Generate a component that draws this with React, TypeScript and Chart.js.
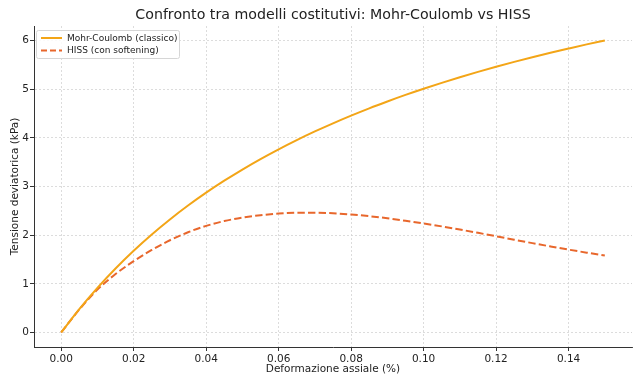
import React, { useEffect, useRef } from "react";
import { Chart, registerables } from "chart.js";

Chart.register(...registerables);

const TITLE = "Confronto tra modelli costitutivi: Mohr-Coulomb vs HISS";
const X_LABEL = "Deformazione assiale (%)";
const Y_LABEL = "Tensione deviatorica (kPa)";
const SERIES_NAMES = ["Mohr-Coulomb (classico)", "HISS (con softening)"];

const strain = [
  0, 0.005, 0.01, 0.015, 0.02, 0.025, 0.03, 0.035, 0.04, 0.045, 0.05, 0.055,
  0.06, 0.065, 0.07, 0.075, 0.08, 0.085, 0.09, 0.095, 0.1, 0.105, 0.11, 0.115,
  0.12, 0.125, 0.13, 0.135, 0.14, 0.145, 0.15,
];

const mohrCoulomb = [
  0, 0.481, 0.917, 1.315, 1.679, 2.014, 2.322, 2.608, 2.873, 3.119, 3.349,
  3.564, 3.765, 3.954, 4.132, 4.299, 4.457, 4.607, 4.748, 4.883, 5.01, 5.131,
  5.247, 5.357, 5.461, 5.562, 5.658, 5.749, 5.837, 5.922, 6.0,
];

const hiss = [
  0, 0.47, 0.88, 1.2, 1.465, 1.695, 1.895, 2.06, 2.19, 2.29, 2.36, 2.41, 2.443,
  2.46, 2.462, 2.45, 2.425, 2.39, 2.347, 2.296, 2.24, 2.18, 2.115, 2.047,
  1.977, 1.906, 1.836, 1.768, 1.702, 1.64, 1.58,
];

const xTicks = [0, 0.02, 0.04, 0.06, 0.08, 0.1, 0.12, 0.14];
const yTicks = [0, 1, 2, 3, 4, 5, 6];

const COLORS = ["#f3a517", "#e8672c"];
const FONT = "'DejaVu Sans', sans-serif";

export default function App() {
  const ref = useRef<HTMLCanvasElement | null>(null);

  useEffect(() => {
    if (!ref.current) return;

    const overlayPlugin = {
      id: "overlay",
      afterDraw(chart: any) {
        const ctx = chart.ctx;
        const area = chart.chartArea;
        ctx.save();
        ctx.font = `14.2px ${FONT}`;
        ctx.fillStyle = "#222";
        ctx.textAlign = "center";
        ctx.textBaseline = "middle";
        ctx.fillText(TITLE, (area.left + area.right) / 2, 15);

        const x0 = 36.5, y0 = 30.5, w = 143, h = 28;
        ctx.fillStyle = "rgba(255,255,255,0.85)";
        ctx.strokeStyle = "#d6d6d6";
        ctx.lineWidth = 1;
        ctx.beginPath();
        (ctx as any).roundRect(x0, y0, w, h, 2);
        ctx.fill();
        ctx.stroke();
        const rows = [38, 50.5];
        ctx.font = `9px ${FONT}`;
        ctx.textBaseline = "middle";
        ctx.textAlign = "left";
        rows.forEach((ry, i) => {
          ctx.strokeStyle = COLORS[i];
          ctx.lineWidth = 2;
          ctx.setLineDash(i === 1 ? [6, 3] : []);
          ctx.beginPath();
          ctx.moveTo(41, ry);
          ctx.lineTo(62, ry);
          ctx.stroke();
          ctx.setLineDash([]);
          ctx.fillStyle = "#222";
          ctx.fillText(SERIES_NAMES[i], 67, ry + 0.5);
        });
        ctx.restore();
      },
    };

    const grid = {
      color: "#d4d4d4",
      lineWidth: 0.8,
      tickLength: 4,
      tickColor: "#333",
      tickWidth: 1,
    };

    const chart = new Chart(ref.current, {
      type: "line",
      data: {
        datasets: [
          {
            label: SERIES_NAMES[0],
            data: strain.map((x, i) => ({ x, y: mohrCoulomb[i] })),
            borderColor: COLORS[0],
            borderWidth: 2,
            pointRadius: 0,
            cubicInterpolationMode: "monotone",
            fill: false,
          },
          {
            label: SERIES_NAMES[1],
            data: strain.map((x, i) => ({ x, y: hiss[i] })),
            borderColor: COLORS[1],
            borderWidth: 2,
            borderDash: [7.4, 3.2],
            pointRadius: 0,
            cubicInterpolationMode: "monotone",
            fill: false,
          },
        ],
      },
      options: {
        responsive: false,
        animation: false,
        layout: { padding: { left: 0, right: 10, top: 26, bottom: 0 } },
        plugins: {
          legend: { display: false },
          tooltip: { enabled: false },
          title: { display: false },
        },
        scales: {
          x: {
            type: "linear",
            min: -0.0075,
            max: 0.1575,
            afterBuildTicks: (s: any) => {
              s.ticks = xTicks.map((v) => ({ value: v }));
            },
            afterFit: (s: any) => {
              s.height = 38;
            },
            ticks: {
              color: "#222",
              font: { family: FONT, size: 10.5 },
              padding: 2,
              maxRotation: 0,
              callback: (v: any) => Number(v).toFixed(2),
            },
            grid,
            border: { display: true, color: "#333", width: 1, dash: [2, 2] },
            title: {
              display: true,
              text: X_LABEL,
              color: "#222",
              font: { family: FONT, size: 10.5 },
              padding: { top: 0, bottom: 9 },
            },
          },
          y: {
            type: "linear",
            min: -0.3,
            max: 6.3,
            afterBuildTicks: (s: any) => {
              s.ticks = yTicks.map((v) => ({ value: v }));
            },
            afterFit: (s: any) => {
              s.width = 34;
            },
            ticks: {
              color: "#222",
              font: { family: FONT, size: 10.5 },
              padding: 1,
              callback: (v: any) => String(v),
            },
            grid,
            border: { display: true, color: "#333", width: 1, dash: [2, 2] },
            title: {
              display: true,
              text: Y_LABEL,
              color: "#222",
              font: { family: FONT, size: 10.5 },
              padding: { top: 9, bottom: 0 },
            },
          },
        },
      },
      plugins: [overlayPlugin],
    } as any);

    return () => chart.destroy();
  }, []);

  return (
    <div style={{ position: "fixed", left: 0, top: 0, width: 642, height: 385, background: "#fff" }}>
      <canvas ref={ref} width={642} height={385} />
    </div>
  );
}
